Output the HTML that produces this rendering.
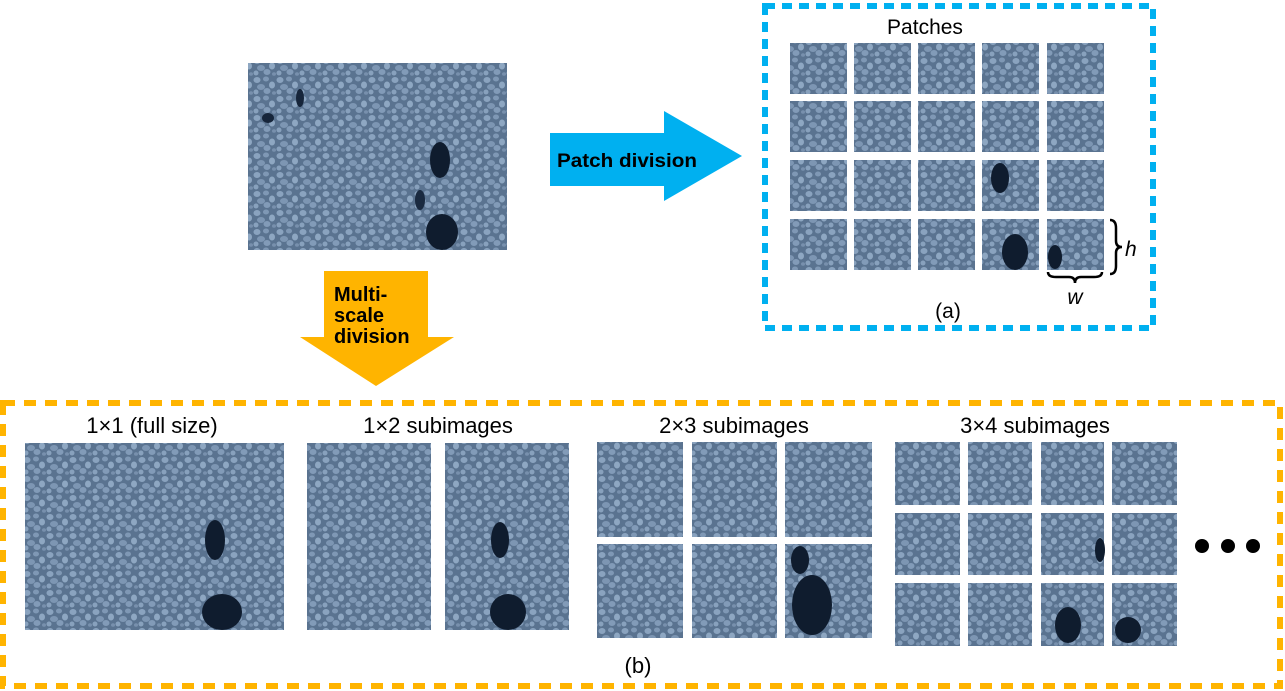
<!DOCTYPE html>
<html><head><meta charset="utf-8"><style>
html,body{margin:0;padding:0;background:#fff;}
svg{display:block;}
text{font-family:"Liberation Sans",Arial,sans-serif;}
</style></head><body>
<svg width="1285" height="691" viewBox="0 0 1285 691" xmlns="http://www.w3.org/2000/svg">
<defs>
<pattern id="ice" width="23" height="19" patternUnits="userSpaceOnUse">
<rect width="23" height="19" fill="#5a7390"/>
<ellipse cx="4" cy="4" rx="3.5" ry="3" fill="#8aa3bf"/>
<ellipse cx="13" cy="3" rx="3" ry="2.5" fill="#7f98b5"/>
<ellipse cx="19" cy="9" rx="3" ry="3.5" fill="#8ea7c2"/>
<ellipse cx="8" cy="11" rx="4" ry="3" fill="#7d96b3"/>
<ellipse cx="3" cy="16" rx="2.5" ry="2.5" fill="#88a1bd"/>
<ellipse cx="14" cy="15" rx="3.5" ry="3" fill="#829bb8"/>
<ellipse cx="21" cy="17" rx="2" ry="1.8" fill="#7890ad"/>
</pattern>
</defs>

<!-- main image -->
<rect x="248" y="63" width="259" height="187" fill="url(#ice)"/>
<ellipse cx="440" cy="160" rx="10" ry="18" fill="#0f1c2e"/>
<ellipse cx="442" cy="232" rx="16" ry="18" fill="#0f1c2e"/>
<ellipse cx="420" cy="200" rx="5" ry="10" fill="#1a2a40"/>
<ellipse cx="268" cy="118" rx="6" ry="5" fill="#16253a"/>
<ellipse cx="300" cy="98" rx="4" ry="9" fill="#16253a"/>

<!-- blue arrow -->
<polygon points="550,133 664,133 664,111 742,156 664,201 664,186 550,186" fill="#00b0f0"/>
<text x="557" y="167" font-size="19" font-weight="bold" fill="#000" textLength="140" lengthAdjust="spacingAndGlyphs">Patch division</text>

<!-- orange arrow -->
<polygon points="324,271 428,271 428,337 454,337 376,386 300,337 324,337" fill="#ffb400"/>
<text font-size="20" font-weight="bold" fill="#000"><tspan x="334" y="301">Multi-</tspan><tspan x="334" y="322">scale</tspan><tspan x="334" y="343">division</tspan></text>

<!-- blue dashed box -->
<rect x="765" y="6" width="388" height="322" fill="none" stroke="#00b0f0" stroke-width="6" stroke-dasharray="10,7"/>
<text x="925" y="34" font-size="21" text-anchor="middle" fill="#000">Patches</text>
<g fill="url(#ice)">
<rect x="790" y="43" width="57" height="51"/><rect x="854" y="43" width="57" height="51"/><rect x="918" y="43" width="57" height="51"/><rect x="982" y="43" width="57" height="51"/><rect x="1047" y="43" width="57" height="51"/>
<rect x="790" y="101" width="57" height="51"/><rect x="854" y="101" width="57" height="51"/><rect x="918" y="101" width="57" height="51"/><rect x="982" y="101" width="57" height="51"/><rect x="1047" y="101" width="57" height="51"/>
<rect x="790" y="160" width="57" height="51"/><rect x="854" y="160" width="57" height="51"/><rect x="918" y="160" width="57" height="51"/><rect x="982" y="160" width="57" height="51"/><rect x="1047" y="160" width="57" height="51"/>
<rect x="790" y="219" width="57" height="51"/><rect x="854" y="219" width="57" height="51"/><rect x="918" y="219" width="57" height="51"/><rect x="982" y="219" width="57" height="51"/><rect x="1047" y="219" width="57" height="51"/>
</g>
<ellipse cx="1000" cy="178" rx="9" ry="15" fill="#0f1c2e"/>
<ellipse cx="1015" cy="252" rx="13" ry="18" fill="#0f1c2e"/>
<ellipse cx="1055" cy="257" rx="7" ry="12" fill="#0f1c2e"/>
<path d="M1110,220 q6,0 6,8 v13 q0,6 6,6 q-6,0 -6,6 v13 q0,8 -6,8" fill="none" stroke="#000" stroke-width="2.5"/>
<text x="1125" y="256" font-size="21" font-style="italic" fill="#000">h</text>
<path d="M1048,272 q0,5 8,5 h13 q6,0 6,6 q0,-6 6,-6 h13 q8,0 8,-5" fill="none" stroke="#000" stroke-width="2.5"/>
<text x="1075" y="304" font-size="21" font-style="italic" text-anchor="middle" fill="#000">w</text>
<text x="948" y="318" font-size="21" text-anchor="middle" fill="#000">(a)</text>

<!-- orange dashed box -->
<rect x="3" y="403" width="1277" height="283" fill="none" stroke="#ffb400" stroke-width="6" stroke-dasharray="12,9"/>

<g font-size="22" fill="#000" text-anchor="middle">
<text x="152" y="433">1×1 (full size)</text>
<text x="438" y="433">1×2 subimages</text>
<text x="734" y="433">2×3 subimages</text>
<text x="1035" y="433">3×4 subimages</text>
<text x="638" y="673">(b)</text>
</g>

<g fill="url(#ice)">
<rect x="25" y="443" width="259" height="187"/>
<rect x="307" y="443" width="124" height="187"/><rect x="445" y="443" width="124" height="187"/>
<rect x="597" y="442" width="86" height="95"/><rect x="692" y="442" width="85" height="95"/><rect x="785" y="442" width="87" height="95"/>
<rect x="597" y="544" width="86" height="94"/><rect x="692" y="544" width="85" height="94"/><rect x="785" y="544" width="87" height="94"/>
<rect x="895" y="442" width="65" height="63"/><rect x="968" y="442" width="64" height="63"/><rect x="1041" y="442" width="63" height="63"/><rect x="1112" y="442" width="65" height="63"/>
<rect x="895" y="513" width="65" height="62"/><rect x="968" y="513" width="64" height="62"/><rect x="1041" y="513" width="63" height="62"/><rect x="1112" y="513" width="65" height="62"/>
<rect x="895" y="583" width="65" height="63"/><rect x="968" y="583" width="64" height="63"/><rect x="1041" y="583" width="63" height="63"/><rect x="1112" y="583" width="65" height="63"/>
</g>
<!-- dark areas bottom -->
<ellipse cx="215" cy="540" rx="10" ry="20" fill="#0f1c2e"/><ellipse cx="222" cy="612" rx="20" ry="18" fill="#0f1c2e"/>
<ellipse cx="500" cy="540" rx="9" ry="18" fill="#0f1c2e"/><ellipse cx="508" cy="612" rx="18" ry="18" fill="#0f1c2e"/>
<ellipse cx="812" cy="605" rx="20" ry="30" fill="#0f1c2e"/><ellipse cx="800" cy="560" rx="9" ry="14" fill="#0f1c2e"/>
<ellipse cx="1068" cy="625" rx="13" ry="18" fill="#0f1c2e"/><ellipse cx="1128" cy="630" rx="13" ry="13" fill="#0f1c2e"/>
<ellipse cx="1100" cy="550" rx="5" ry="12" fill="#0f1c2e"/>

<circle cx="1202" cy="546" r="7" fill="#000"/><circle cx="1228" cy="546" r="7" fill="#000"/><circle cx="1253" cy="546" r="7" fill="#000"/>
</svg>
</body></html>
